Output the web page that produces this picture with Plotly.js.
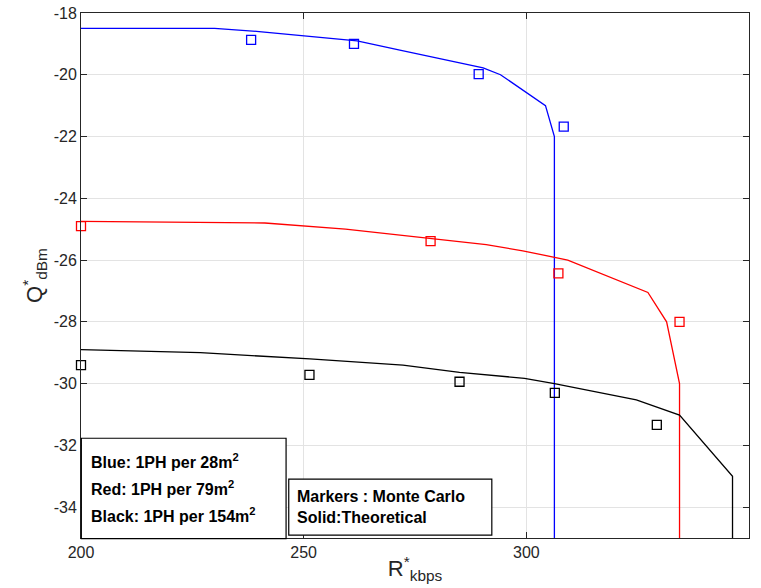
<!DOCTYPE html>
<html>
<head>
<meta charset="utf-8">
<script src="https://cdn.plot.ly/plotly-3.0.1.min.js"></script>
<style>html,body{margin:0;padding:0;background:#fff;}#chart{width:761px;height:588px;}</style>
</head>
<body>
<div id="chart"></div>
<script>
// Theoretical curves (solid lines)
const blueTheoX  = [200, 230, 240, 250, 262, 271.6, 290.3, 294.2, 304.3, 306.3, 306.3];
const blueTheoY  = [-18.5, -18.5, -18.6, -18.74, -18.9, -19.2, -19.78, -20.0, -21.0, -22.0, -35];
const redTheoX   = [200, 230, 241.3, 259.4, 291, 299.2, 309.3, 327.3, 331.5, 334.4, 334.4];
const redTheoY   = [-24.75, -24.78, -24.8, -25.0, -25.5, -25.7, -26.0, -27.05, -28.0, -30.0, -35];
const blackTheoX = [200, 226.8, 251.4, 272.3, 285, 299.6, 306.3, 324.7, 334.4, 346.3, 346.3];
const blackTheoY = [-28.9, -29.0, -29.2, -29.4, -29.64, -29.83, -30.0, -30.53, -31.02, -33.0, -35];

// Monte Carlo (markers)
const blueMcX  = [238.2, 261.3, 289.3, 308.4];
const blueMcY  = [-18.87, -19.0, -19.98, -21.68];
const redMcX   = [200, 278.5, 307.2, 334.4];
const redMcY   = [-24.9, -25.39, -26.43, -28.0];
const blackMcX = [200, 251.3, 285, 306.4, 329.3];
const blackMcY = [-29.4, -29.72, -29.94, -30.3, -31.34];

const xTicks = [200, 250, 300, 350];
const yTicks = [-34, -32, -30, -28, -26, -24, -22, -20, -18];

const legendLines = ['Blue: 1PH per 28m<sup>2</sup>', 'Red: 1PH per 79m<sup>2</sup>', 'Black: 1PH per 154m<sup>2</sup>'];
const noteLines = ['Markers : Monte Carlo', 'Solid:Theoretical'];

const FONT = 'Liberation Sans, Arial, Helvetica, sans-serif';

function line(x, y, c) {
  return {x: x, y: y, mode: 'lines', type: 'scatter', line: {color: c, width: 1.3}, hoverinfo: 'skip', cliponaxis: true};
}
function marks(x, y, c) {
  return {x: x, y: y, mode: 'markers', type: 'scatter', cliponaxis: false,
    marker: {symbol: 'square-open', size: 9, color: c, line: {color: c, width: 1.3}}};
}

const data = [
  line(blueTheoX, blueTheoY, '#0000ff'),
  line(redTheoX, redTheoY, '#ff0000'),
  line(blackTheoX, blackTheoY, '#000000'),
  marks(blueMcX, blueMcY, '#0000ff'),
  marks(redMcX, redMcY, '#ff0000'),
  marks(blackMcX, blackMcY, '#000000')
];

const axisCommon = {
  showline: true, mirror: 'ticks', linecolor: '#262626', linewidth: 1,
  ticks: 'inside', ticklen: 6, tickcolor: '#262626', tickwidth: 1,
  showgrid: true, gridcolor: '#e3e3e3', gridwidth: 1, zeroline: false,
  tickfont: {family: FONT, size: 16, color: '#262626'}
};

const annotations = [];
const legY = [0.146, 0.095, 0.043];
legendLines.forEach((t, i) => annotations.push({
  xref: 'paper', yref: 'paper', x: 0.0125, y: legY[i], xanchor: 'left', yanchor: 'middle',
  text: t, showarrow: false, font: {family: FONT, size: 16, color: '#000', weight: 'bold'}
}));
const noteY = [0.079, 0.040];
noteLines.forEach((t, i) => annotations.push({
  xref: 'paper', yref: 'paper', x: 0.321, y: noteY[i], xanchor: 'left', yanchor: 'middle',
  text: t, showarrow: false, font: {family: FONT, size: 16, color: '#000', weight: 'bold'}
}));

const layout = {
  width: 761, height: 588,
  margin: {l: 81, r: 12, t: 13, b: 50, pad: 0},
  paper_bgcolor: '#ffffff', plot_bgcolor: '#ffffff',
  showlegend: false,
  font: {family: FONT, color: '#262626'},
  xaxis: Object.assign({}, axisCommon, {
    range: [200, 350], tickvals: xTicks, ticktext: xTicks.map(String),
    title: {text: 'R<sup>*</sup><sub>kbps</sub>', font: {family: FONT, size: 22, color: '#262626'}, standoff: 0}
  }),
  yaxis: Object.assign({}, axisCommon, {
    range: [-35, -18], tickvals: yTicks, ticktext: yTicks.map(String),
    title: {text: 'Q<sup>*</sup><sub>dBm</sub>', font: {family: FONT, size: 22, color: '#262626'}, standoff: 4}
  }),
  shapes: [
    {type: 'rect', xref: 'paper', yref: 'paper', x0: 0.0005, x1: 0.307, y0: -0.001, y1: 0.190,
     line: {color: '#000', width: 1.2}, fillcolor: '#ffffff', layer: 'above'},
    {type: 'rect', xref: 'paper', yref: 'paper', x0: 0.311, x1: 0.615, y0: 0.0053, y1: 0.112,
     line: {color: '#000', width: 1.2}, fillcolor: '#ffffff', layer: 'above'}
  ],
  annotations: annotations
};

Plotly.newPlot('chart', data, layout, {displayModeBar: false, staticPlot: true});
</script>
</body>
</html>
